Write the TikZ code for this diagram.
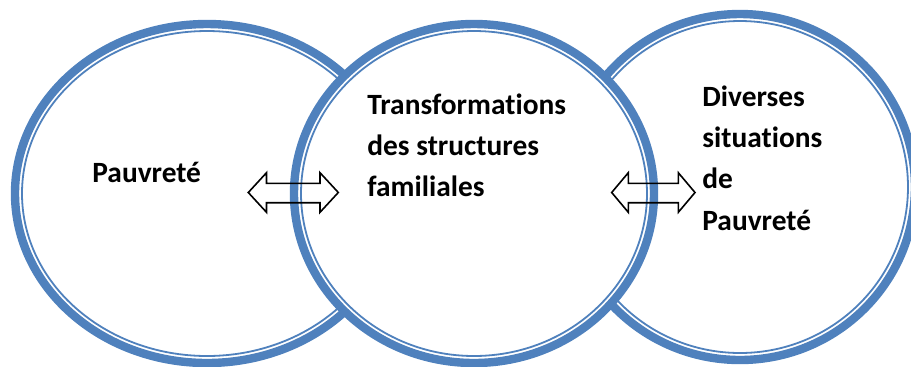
\documentclass[tikz,border=0pt]{standalone}
\usepackage{fontspec}
\setmainfont{Carlito}[Ligatures=NoCommon]
\definecolor{ringblue}{HTML}{4F81BD}
\tikzset{
  ring/.style={draw=ringblue, fill=white, line width=4.2pt},
  ringinner/.style={draw=ringblue, line width=0.9pt},
  lbl/.style={anchor=base west, inner sep=0pt, align=left, font=\fontsize{14.7}{20.6}\selectfont\bfseries},
  dblarrow/.style={draw=black, line width=0.8pt, line join=miter}
}
\begin{document}
\begin{tikzpicture}[x=0.5pt, y=-0.5pt]
\useasboundingbox (0,0) rectangle (911,366);
\clip (0,0) rectangle (911,366);
\coordinate (c1) at (207,193.5);
\coordinate (c2) at (474,193.5);
\coordinate (c3) at (740,187);
% circles, middle one on top
\draw[ring] (c1) ellipse [x radius=96pt, y radius=84.75pt];
\draw[ringinner] (c1) ellipse [x radius=92.5pt, y radius=81.25pt];
\draw[ring] (c3) ellipse [x radius=87.5pt, y radius=86.5pt];
\draw[ringinner] (c3) ellipse [x radius=84pt, y radius=83pt];
\draw[ring] (c2) ellipse [x radius=90pt, y radius=84.75pt];
\draw[ringinner] (c2) ellipse [x radius=86.5pt, y radius=81.25pt];
% texts (base = last line)
\node[lbl] (pauv) at (92,182.7) {Pauvreté};
\node[lbl] (trans) at (367,196.5) {Transformations\\des structures\\familiales};
\node[lbl] (div) at (702,230) {Diverses\\situations\\de\\Pauvreté};
% double arrows
\foreach \xl/\bl/\br/\xr in {248.3/266.5/320/338.3, 611.7/628.3/678.3/695}
  \draw[dblarrow] (\xl,192.5) -- (\bl,172.7) -- (\bl,183.3) -- (\br,183.3) -- (\br,172.7)
    -- (\xr,192.5) -- (\br,212.3) -- (\br,202.7) -- (\bl,202.7) -- (\bl,212.3) -- cycle;
\end{tikzpicture}
\end{document}
